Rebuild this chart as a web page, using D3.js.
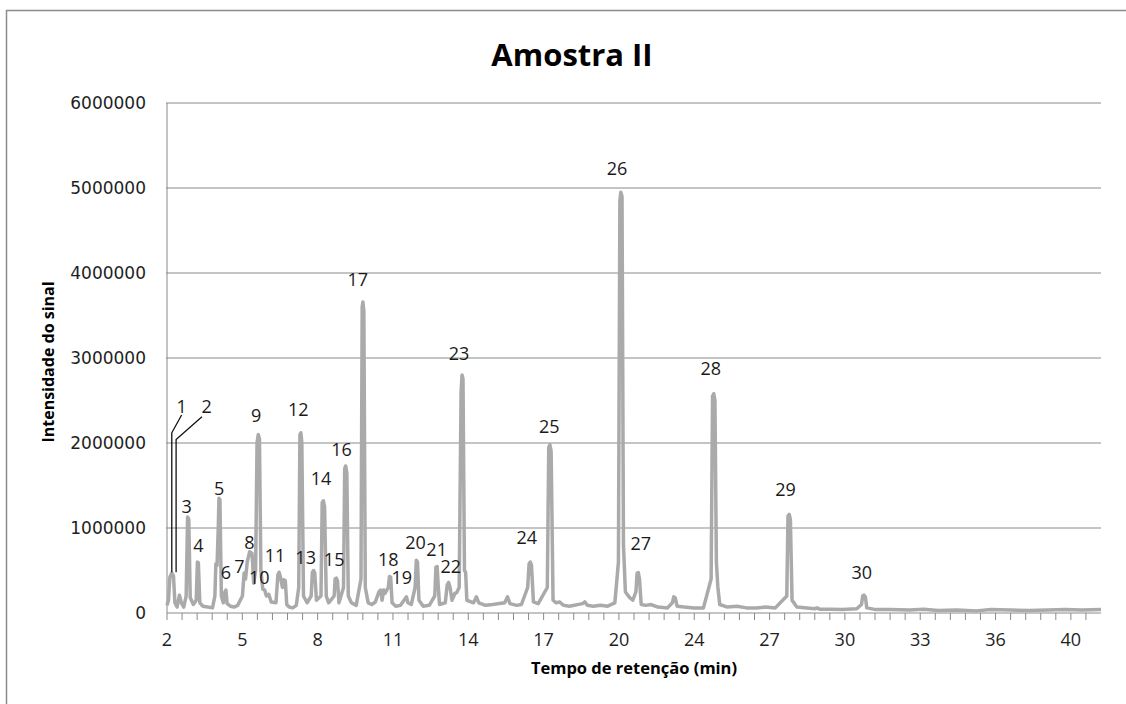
<!DOCTYPE html>
<html>
<head>
<meta charset="utf-8">
<script src="https://cdn.jsdelivr.net/npm/d3@7"></script>
<style>
  body { margin: 0; background: #ffffff; }
  svg { display: block; }
</style>
</head>
<body>
<svg id="chart" width="1126" height="704"></svg>
<script>
// retention time (min) and signal intensity
const chromatogram = [
  [2.00, 90000], [2.06, 150000], [2.12, 420000], [2.20, 470000], [2.27, 440000], [2.33, 120000],
  [2.42, 70000], [2.52, 210000], [2.60, 120000], [2.70, 70000], [2.80, 200000],
  [2.86, 1130000], [2.91, 1100000], [2.97, 180000], [3.10, 100000],
  [3.22, 150000], [3.27, 600000], [3.31, 590000], [3.37, 120000],
  [3.50, 80000], [3.70, 70000], [3.90, 60000],
  [4.00, 200000], [4.04, 580000], [4.09, 560000], [4.14, 1000000], [4.17, 1350000], [4.21, 1330000], [4.27, 200000],
  [4.35, 120000], [4.42, 250000], [4.46, 270000], [4.51, 110000],
  [4.65, 80000], [4.80, 70000], [4.95, 90000],
  [5.15, 200000], [5.22, 470000], [5.28, 400000], [5.35, 600000], [5.45, 720000], [5.55, 700000], [5.62, 350000],
  [5.70, 500000], [5.76, 2000000], [5.81, 2100000], [5.86, 2050000], [5.92, 500000],
  [6.00, 280000], [6.08, 270000], [6.15, 200000], [6.25, 220000], [6.35, 130000],
  [6.55, 120000], [6.63, 450000], [6.68, 480000], [6.74, 420000],
  [6.82, 300000], [6.88, 390000], [6.94, 380000], [7.00, 100000],
  [7.10, 70000], [7.25, 60000], [7.40, 90000],
  [7.50, 300000], [7.55, 2100000], [7.59, 2120000], [7.63, 2000000], [7.70, 200000],
  [7.85, 120000], [8.02, 200000], [8.07, 480000], [8.12, 500000], [8.17, 470000], [8.24, 150000],
  [8.43, 200000], [8.48, 1300000], [8.53, 1320000], [8.58, 1250000], [8.65, 200000],
  [8.75, 120000], [8.98, 200000], [9.02, 400000], [9.07, 410000], [9.12, 380000], [9.18, 120000],
  [9.37, 300000], [9.42, 1700000], [9.46, 1730000], [9.51, 1650000], [9.57, 200000],
  [9.70, 120000], [9.90, 90000],
  [10.10, 400000], [10.15, 3600000], [10.18, 3660000], [10.22, 3550000], [10.28, 300000],
  [10.40, 120000], [10.55, 100000], [10.70, 130000],
  [10.85, 250000], [10.92, 270000], [10.98, 150000], [11.05, 270000], [11.10, 230000],
  [11.24, 300000], [11.29, 430000], [11.34, 420000], [11.40, 120000],
  [11.55, 80000], [11.75, 90000],
  [11.95, 170000], [12.00, 190000], [12.06, 120000], [12.20, 100000],
  [12.36, 300000], [12.41, 620000], [12.46, 600000], [12.52, 150000],
  [12.70, 80000], [12.95, 90000],
  [13.18, 200000], [13.23, 540000], [13.28, 545000], [13.33, 300000], [13.38, 100000],
  [13.62, 120000], [13.70, 330000], [13.76, 360000], [13.82, 300000], [13.90, 150000],
  [14.02, 230000], [14.10, 240000], [14.20, 300000],
  [14.28, 2600000], [14.32, 2800000], [14.36, 2750000], [14.42, 500000], [14.47, 480000], [14.52, 150000],
  [14.80, 120000], [14.92, 190000], [15.02, 120000],
  [15.30, 90000], [15.60, 100000],
  [16.10, 120000], [16.22, 190000], [16.32, 110000],
  [16.60, 90000], [16.80, 100000],
  [17.06, 300000], [17.12, 580000], [17.17, 600000], [17.22, 560000], [17.30, 130000],
  [17.50, 110000],
  [17.88, 300000], [17.94, 1950000], [17.99, 1980000], [18.04, 1900000], [18.12, 150000],
  [18.25, 120000], [18.40, 130000], [18.55, 90000], [18.80, 80000],
  [19.35, 110000], [19.45, 130000], [19.55, 90000],
  [19.80, 80000], [20.10, 90000], [20.40, 80000], [20.70, 120000],
  [20.85, 600000], [20.91, 4850000], [20.95, 4950000], [21.00, 4900000], [21.06, 800000],
  [21.14, 250000], [21.24, 210000], [21.32, 180000], [21.45, 150000],
  [21.58, 250000], [21.63, 470000], [21.68, 475000], [21.73, 400000], [21.80, 100000],
  [22.00, 90000], [22.20, 100000], [22.50, 70000], [22.90, 60000],
  [23.10, 120000], [23.16, 190000], [23.22, 180000], [23.30, 80000],
  [23.60, 70000], [24.00, 60000], [24.40, 60000],
  [24.72, 400000], [24.78, 2550000], [24.83, 2580000], [24.88, 2500000], [24.94, 600000],
  [25.00, 310000], [25.08, 100000],
  [25.40, 70000], [25.80, 80000], [26.20, 60000], [26.60, 60000], [27.00, 70000], [27.40, 60000],
  [27.88, 200000], [27.93, 1140000], [27.98, 1160000], [28.03, 1100000], [28.10, 150000],
  [28.30, 70000],
  [29.05, 50000], [29.14, 60000], [29.25, 45000],
  [29.70, 45000], [30.20, 40000], [30.80, 50000],
  [31.00, 100000], [31.05, 200000], [31.10, 210000], [31.16, 190000], [31.22, 60000],
  [31.60, 40000], [32.20, 40000], [33.00, 35000], [33.60, 45000], [34.20, 30000], [35.00, 35000],
  [35.80, 25000], [36.40, 40000], [37.20, 35000], [38.00, 30000], [38.80, 35000], [39.50, 40000],
  [40.20, 35000], [41.00, 40000]
]

// peak numbers and where their labels sit (time, intensity)
const peakLabels = [
  ['1', 2.61, 2435000], ['2', 3.66, 2435000], ['3', 2.82, 1251000], ['4', 3.31, 792000],
  ['5', 4.18, 1467000], ['6', 4.46, 474000], ['7', 5.02, 545000], ['8', 5.44, 827000],
  ['9', 5.72, 2329000], ['10', 5.85, 420000], ['11', 6.51, 674000], ['12', 7.48, 2396000],
  ['13', 7.79, 651000], ['14', 8.43, 1585000], ['15', 8.98, 624000], ['16', 9.29, 1918000],
  ['17', 9.97, 3929000], ['18', 11.24, 624000], ['19', 11.80, 420000], ['20', 12.38, 827000],
  ['21', 13.26, 749000], ['22', 13.85, 545000], ['23', 14.19, 3047000], ['24', 17.02, 886000],
  ['25', 17.96, 2192000], ['26', 20.79, 5224000], ['27', 21.78, 812000], ['28', 24.71, 2882000],
  ['29', 27.83, 1447000], ['30', 31.01, 479000]
]

// leader lines for peaks 1 and 2
const leaders = [
  [[2.20, 480000], [2.20, 2120000], [2.61, 2330000]],
  [[2.38, 480000], [2.38, 2040000], [3.46, 2310000]]
]

const xTickLabels = ['2', '5', '8', '11', '14', '17', '20', '24', '27', '30', '33', '36', '40']
const yTicks = [0, 1000000, 2000000, 3000000, 4000000, 5000000, 6000000]

const svg = d3.select('#chart')
const plotLeft = 167
const plotRight = 1101
const plotTop = 103
const plotBottom = 613

// chart border
svg.append('rect')
  .attr('x', 6.5).attr('y', 10.5)
  .attr('width', 1140).attr('height', 720)
  .attr('fill', 'none')
  .attr('stroke', '#8c8c8c')
  .attr('stroke-width', 1.5)

const x = d3.scaleLinear().domain([2, 41]).range([plotLeft, plotRight])
const y = d3.scaleLinear().domain([0, 6000000]).range([plotBottom, plotTop])

// horizontal gridlines
svg.append('g')
  .selectAll('line')
  .data(yTicks.slice(1))
  .enter().append('line')
  .attr('x1', plotLeft - 1).attr('x2', plotRight)
  .attr('y1', d => y(d)).attr('y2', d => y(d))
  .attr('stroke', '#8a8a8a')
  .attr('stroke-width', 1)

// y axis labels
svg.append('g')
  .selectAll('text')
  .data(yTicks)
  .enter().append('text')
  .attr('x', 146)
  .attr('y', d => y(d))
  .attr('dy', '0.36em')
  .attr('text-anchor', 'end')
  .attr('font-family', 'DejaVu Sans')
  .attr('font-size', 17)
  .attr('fill', '#1e1e1e')
  .text(d => d3.format('d')(d))

// y axis line
svg.append('line')
  .attr('x1', plotLeft).attr('x2', plotLeft)
  .attr('y1', plotTop).attr('y2', plotBottom)
  .attr('stroke', '#8a8a8a')

// x axis: minor ticks, a label every fifth one
const step = 39 / 62
const tickPos = d3.range(62).map(i => 2 + i * step)
const xAxis = svg.append('g')
xAxis.append('line')
  .attr('x1', plotLeft).attr('x2', plotRight)
  .attr('y1', plotBottom).attr('y2', plotBottom)
  .attr('stroke', '#8a8a8a')
xAxis.selectAll('.tick')
  .data(tickPos)
  .enter().append('line')
  .attr('class', 'tick')
  .attr('x1', d => x(d)).attr('x2', d => x(d))
  .attr('y1', plotBottom).attr('y2', plotBottom + 7)
  .attr('stroke', '#8a8a8a')
xAxis.selectAll('text')
  .data(xTickLabels)
  .enter().append('text')
  .attr('x', (d, i) => x(2 + i * 5 * step))
  .attr('y', 640)
  .attr('dy', '0.36em')
  .attr('text-anchor', 'middle')
  .attr('font-family', 'Open Sans')
  .attr('font-size', 18)
  .attr('fill', '#1e1e1e')
  .text(d => d)

// chromatogram trace
const line = d3.line()
  .x(d => x(d[0]))
  .y(d => y(d[1]))

svg.append('path')
  .datum(chromatogram)
  .attr('d', line)
  .attr('fill', 'none')
  .attr('stroke', '#aaaaaa')
  .attr('stroke-width', 3.5)
  .attr('stroke-linejoin', 'round')

// leader lines
svg.append('g')
  .selectAll('path')
  .data(leaders)
  .enter().append('path')
  .attr('d', line)
  .attr('fill', 'none')
  .attr('stroke', '#111111')
  .attr('stroke-width', 1.3)

// peak labels
svg.append('g')
  .selectAll('text')
  .data(peakLabels)
  .enter().append('text')
  .attr('x', d => x(d[1]))
  .attr('y', d => y(d[2]))
  .attr('dy', '0.36em')
  .attr('text-anchor', 'middle')
  .attr('font-family', 'Open Sans')
  .attr('font-size', 18)
  .attr('fill', '#1a1a1a')
  .text(d => d[0])

// titles
svg.append('text')
  .attr('x', 572).attr('y', 55)
  .attr('dy', '0.36em')
  .attr('text-anchor', 'middle')
  .attr('font-family', 'Open Sans')
  .attr('font-weight', 'bold')
  .attr('font-size', 31)
  .attr('fill', '#000000')
  .text('Amostra II')

svg.append('text')
  .attr('transform', 'translate(48,362) rotate(-90)')
  .attr('dy', '0.36em')
  .attr('text-anchor', 'middle')
  .attr('font-family', 'Open Sans')
  .attr('font-weight', 'bold')
  .attr('font-size', 16)
  .attr('fill', '#000000')
  .text('Intensidade do sinal')

svg.append('text')
  .attr('x', 634).attr('y', 668)
  .attr('dy', '0.36em')
  .attr('text-anchor', 'middle')
  .attr('font-family', 'Open Sans')
  .attr('font-weight', 'bold')
  .attr('font-size', 16.5)
  .attr('fill', '#000000')
  .text('Tempo de retenção (min)')
</script>
</body>
</html>
